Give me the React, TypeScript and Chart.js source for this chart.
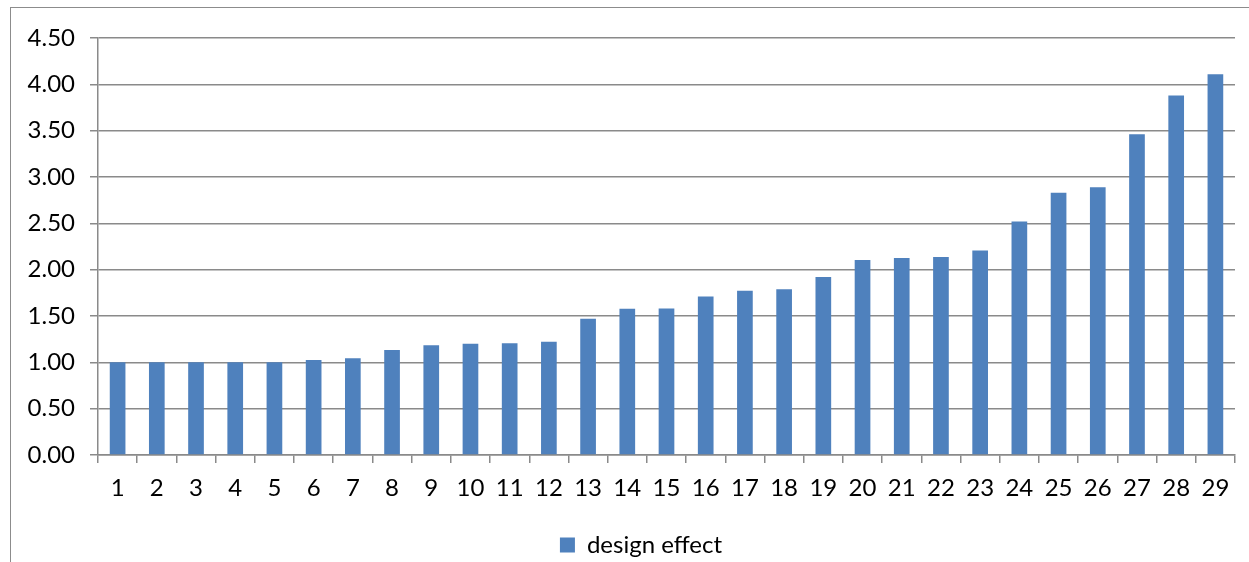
import React, { useEffect, useRef } from "react";
import { Chart, registerables } from "chart.js";

Chart.register(...registerables);

const categories: string[] = Array.from({ length: 29 }, (_, i) => String(i + 1));
const designEffect: number[] = [
  1.0, 1.0, 1.0, 1.0, 1.0, 1.025, 1.043, 1.133, 1.184, 1.201, 1.205, 1.223, 1.469,
  1.577, 1.58, 1.71, 1.772, 1.79, 1.92, 2.104, 2.125, 2.136, 2.208, 2.52, 2.83,
  2.89, 3.46, 3.88, 4.11,
];
const seriesLabel = "design effect";

const FONT = "Lato, 'Open Sans', sans-serif";
const GRID = "#8a8a8a";

const legendShift = {
  id: "legendShift",
  afterLayout(chart: any) {
    if (chart.legend) {
      chart.legend.left += 18;
      chart.legend.right += 18;
    }
  },
};

export default function App() {
  const ref = useRef<HTMLCanvasElement | null>(null);

  useEffect(() => {
    if (!ref.current) return;
    const chart = new Chart(ref.current, {
      type: "bar",
      data: {
        labels: categories,
        datasets: [
          {
            label: seriesLabel,
            data: designEffect,
            backgroundColor: "#4F81BD",
            borderWidth: 0,
            barPercentage: 0.4,
            categoryPercentage: 1.0,
          },
        ],
      },
      options: {
        responsive: false,
        animation: false,
        devicePixelRatio: 1,
        layout: { padding: { top: 30, right: 38, left: 0, bottom: 1 } },
        plugins: {
          legend: {
            position: "bottom",
            labels: {
              boxWidth: 15,
              boxHeight: 15,
              color: "#000",
              font: { family: FONT, size: 24 },
              padding: 10,
            },
          },
          tooltip: { enabled: false },
        },
        scales: {
          x: {
            afterFit: (scale: any) => {
              scale.height = 68;
            },
            grid: {
              offset: true,
              drawOnChartArea: false,
              drawTicks: true,
              tickLength: 8,
              color: GRID,
              lineWidth: 1.5,
            },
            border: { display: true, color: GRID, width: 1.5 },
            ticks: {
              color: "#000",
              font: { family: FONT, size: 24 },
              padding: 11,
              maxRotation: 0,
              autoSkip: false,
            },
          },
          y: {
            min: 0,
            max: 4.5,
            afterFit: (scale: any) => {
              scale.width = 87;
            },
            grid: {
              color: GRID,
              lineWidth: 1.5,
              tickLength: 8,
              drawTicks: true,
            },
            border: { display: true, color: GRID, width: 1.5 },
            ticks: {
              stepSize: 0.5,
              color: "#000",
              padding: 15,
              font: { family: FONT, size: 24 },
              callback: (v: any) => Number(v).toFixed(2),
            },
          },
        },
      },
      plugins: [legendShift],
    });
    return () => chart.destroy();
  }, []);

  return (
    <div
      style={{
        position: "fixed",
        left: 10,
        top: 7,
        width: 1262,
        height: 570,
        border: "1px solid #8c8c8c",
        background: "#fff",
      }}
    >
      <canvas ref={ref} width={1262} height={560} style={{ display: "block" }} />
    </div>
  );
}
